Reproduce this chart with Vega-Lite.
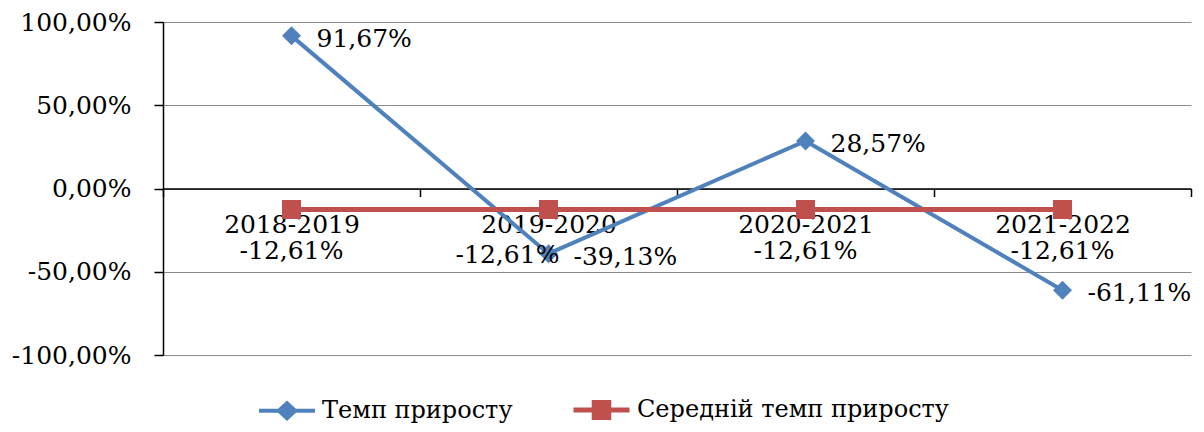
{
  "$schema": "https://vega.github.io/schema/vega-lite/v6.json",
  "width": 1028,
  "height": 333,
  "autosize": {"type": "none"},
  "padding": {"left": 163, "top": 22, "right": 13, "bottom": 77},
  "background": "white",
  "config": {
    "font": "DejaVu Serif",
    "view": {"stroke": null},
    "locale": {
      "number": {"decimal": ",", "thousands": " ", "grouping": [3], "currency": ["", ""], "minus": "-", "percent": "%"}
    }
  },
  "data": {
    "values": [
      {"period": "2018-2019", "series": "Темп приросту", "value": 0.9167},
      {"period": "2019-2020", "series": "Темп приросту", "value": -0.3913},
      {"period": "2020-2021", "series": "Темп приросту", "value": 0.2857},
      {"period": "2021-2022", "series": "Темп приросту", "value": -0.6111},
      {"period": "2018-2019", "series": "Середній темп приросту", "value": -0.1261},
      {"period": "2019-2020", "series": "Середній темп приросту", "value": -0.1261},
      {"period": "2020-2021", "series": "Середній темп приросту", "value": -0.1261},
      {"period": "2021-2022", "series": "Середній темп приросту", "value": -0.1261}
    ]
  },
  "encoding": {
    "x": {
      "field": "period", "type": "nominal", "sort": null, "bandPosition": 0.5,
      "scale": {"type": "band", "paddingInner": 0, "paddingOuter": 0},
      "axis": {
        "title": null, "orient": "bottom", "offset": -166.5, "labelAngle": 0,
        "domainColor": "black", "domainWidth": 1.5, "tickColor": "black", "tickWidth": 1.5, "tickSize": 8,
        "tickBand": "extent", "grid": false,
        "labelFont": "DejaVu Serif", "labelFontSize": 25, "labelColor": "black",
        "labelBaseline": "middle", "labelPadding": 28,
        "zindex": 0
      }
    },
    "y": {
      "field": "value", "type": "quantitative",
      "scale": {"domain": [-1, 1], "nice": false, "zero": false},
      "axis": {
        "title": null, "values": [-1, -0.5, 0, 0.5, 1], "format": ".2%",
        "grid": true, "gridColor": "#8c8c8c", "gridWidth": 1.2,
        "domainColor": "black", "domainWidth": 1.5, "tickColor": "black", "tickWidth": 1.5, "tickSize": 9,
        "labelFont": "DejaVu Serif", "labelFontSize": 25, "labelColor": "black", "labelPadding": 23,
        "zindex": 0
      }
    }
  },
  "layer": [
    {
      "mark": {"type": "line"},
      "encoding": {
        "color": {
          "field": "series", "type": "nominal", "sort": null,
          "scale": {"domain": ["Темп приросту", "Середній темп приросту"], "range": ["#4F81BD", "#C0504D"]},
          "legend": {
            "orient": "none", "legendX": 94, "legendY": 357, "direction": "horizontal", "title": null,
            "padding": 0, "labelFont": "DejaVu Serif", "labelFontSize": 24, "labelColor": "black",
            "labelLimit": 0,
            "symbolSize": 3136, "symbolStrokeWidth": 5, "columnPadding": 50, "labelOffset": 5,
            "encode": {
              "symbols": {
                "update": {
                  "shape": {"signal": "datum.value === 'Темп приросту' ? 'M-1,0L1,0M0,-0.27L0.29,0L0,0.27L-0.29,0Z' : 'M-1,0L1,0M-0.26,-0.27L0.26,-0.27L0.26,0.27L-0.26,0.27Z'"},
                  "fill": {"signal": "datum.value === 'Темп приросту' ? '#4F81BD' : '#C0504D'"},
                  "stroke": {"signal": "datum.value === 'Темп приросту' ? '#4F81BD' : '#C0504D'"},
                  "opacity": {"value": 1}
                }
              }
            }
          }
        },
        "strokeWidth": {
          "field": "series", "type": "nominal",
          "scale": {"domain": ["Темп приросту", "Середній темп приросту"], "range": [4, 5]},
          "legend": null
        }
      }
    },
    {
      "transform": [{"filter": "datum.series === 'Темп приросту'"}],
      "mark": {"type": "point", "shape": "diamond", "filled": true, "opacity": 1, "size": 361, "color": "#4F81BD"}
    },
    {
      "transform": [{"filter": "datum.series === 'Середній темп приросту'"}],
      "mark": {"type": "point", "shape": "square", "filled": true, "opacity": 1, "size": 361, "color": "#C0504D"}
    },
    {
      "transform": [{"filter": "datum.series === 'Темп приросту'"}],
      "mark": {"type": "text", "align": "left", "baseline": "middle", "dx": 25, "dy": 3, "fontSize": 25, "font": "DejaVu Serif", "color": "black"},
      "encoding": {"text": {"field": "value", "type": "quantitative", "format": ".2%"}}
    },
    {
      "transform": [{"filter": "datum.series === 'Середній темп приросту' && datum.period !== '2019-2020'"}],
      "mark": {"type": "text", "align": "center", "baseline": "middle", "dy": 42, "fontSize": 25, "font": "DejaVu Serif", "color": "black"},
      "encoding": {"text": {"field": "value", "type": "quantitative", "format": ".2%"}}
    },
    {
      "transform": [{"filter": "datum.series === 'Середній темп приросту' && datum.period === '2019-2020'"}],
      "mark": {"type": "text", "align": "center", "baseline": "middle", "dx": -41, "dy": 46, "fontSize": 25, "font": "DejaVu Serif", "color": "black"},
      "encoding": {"text": {"field": "value", "type": "quantitative", "format": ".2%"}}
    }
  ]
}
